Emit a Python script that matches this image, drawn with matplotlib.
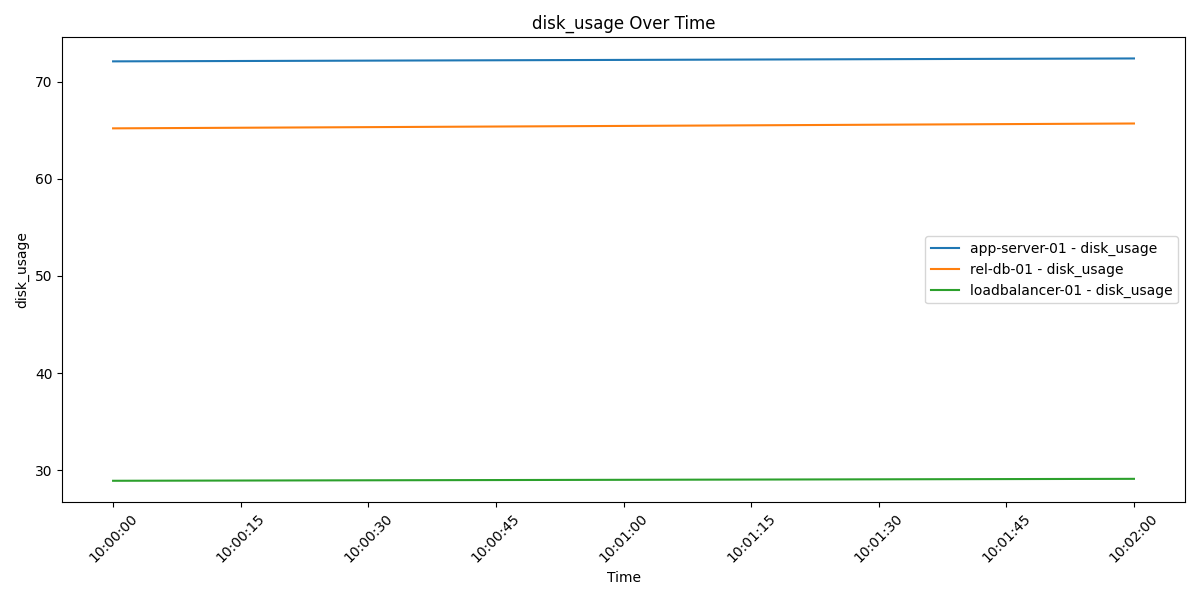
import matplotlib
matplotlib.use("Agg")
import matplotlib.pyplot as plt
import matplotlib.dates as mdates
import pandas as pd

times = ["10:00:00", "10:01:00", "10:02:00"]
app_server = [72.1, 72.25, 72.4]
rel_db = [65.2, 65.45, 65.7]
loadbalancer = [28.9, 29.0, 29.1]

t = pd.to_datetime(["2024-01-01 " + s for s in times])
fig, ax = plt.subplots(figsize=(12, 6), dpi=100)
ax.plot(t, app_server, label="app-server-01 - disk_usage")
ax.plot(t, rel_db, label="rel-db-01 - disk_usage")
ax.plot(t, loadbalancer, label="loadbalancer-01 - disk_usage")
ax.xaxis.set_major_locator(mdates.SecondLocator(bysecond=[0, 15, 30, 45]))
ax.xaxis.set_major_formatter(mdates.DateFormatter("%H:%M:%S"))
plt.setp(ax.get_xticklabels(), rotation=45)
ax.set_title("disk_usage Over Time")
ax.set_xlabel("Time")
ax.set_ylabel("disk_usage")
ax.legend(loc="center right")
fig.tight_layout()
fig.savefig("out.png")
